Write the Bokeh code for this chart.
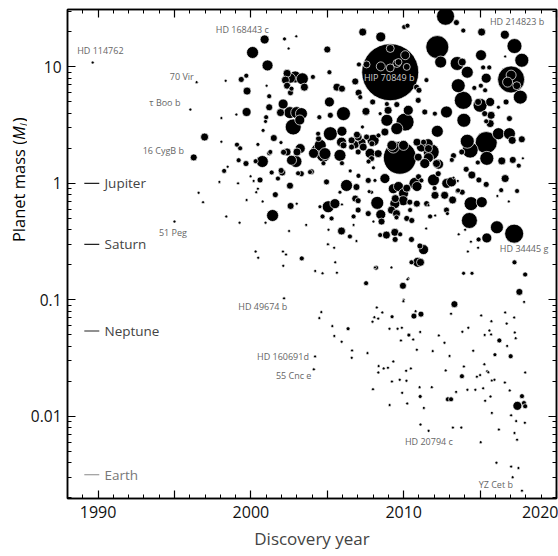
import math
from bokeh.plotting import figure
from bokeh.layouts import row
from bokeh.models import Range1d, LinearAxis, LogAxis, FixedTicker, ColumnDataSource, BasicTickFormatter
from bokeh.core.properties import value
from bokeh.embed import file_html
from bokeh.resources import INLINE

FONT = "Open Sans"

# ---- data: discovery year, planet mass (Jupiter masses), marker size ----
year = [
    1989.65, 1996.45, 1996.04, 1996.26, 1996.97, 1995.00, 1996.58, 1996.87, 1998.07, 1998.35,
    1998.07, 1997.94, 1998.25, 1998.48, 1998.39, 1999.16, 1999.26, 1999.72, 1999.05, 1999.37,
    1999.70, 1999.75, 1999.72, 1999.09, 1999.30, 1999.20, 1999.68, 1999.98, 2000.18, 2000.35,
    2000.46, 2000.60, 2000.31, 2000.75, 2001.20, 2000.77, 2001.36, 2001.60, 2001.77, 2002.05,
    2001.42, 2000.96, 2002.50, 2000.31, 2000.48, 2002.10, 2002.30, 2002.12, 2002.17, 2000.11,
    2000.90, 2001.09, 2001.03, 2001.20, 2001.20, 2001.00, 2000.96, 2000.80, 2001.50, 2000.46,
    2001.97, 2001.27, 2002.20, 2002.97, 2002.47, 2002.37, 2002.26, 2002.59, 2002.90, 2002.37,
    2002.59, 2002.11, 2002.55, 2001.94, 2003.00, 2002.77, 2003.20, 2002.14, 2002.37, 2003.02,
    2002.56, 2002.60, 2003.00, 2003.09, 2002.95, 2004.06, 2003.50, 2003.37, 2003.31, 2002.66,
    2004.48,
    2005.00, 2005.14, 2005.63, 2005.96, 2006.83, 2007.05, 2007.16, 2005.14, 2007.97, 2007.53,
    2008.90, 2009.55, 2006.06, 2008.46, 2010.30, 2005.20, 2005.20, 2005.96, 2006.94, 2007.30,
    2008.90, 2010.09, 2009.55, 2004.43, 2004.54, 2003.23, 2006.06, 2006.83, 2007.27, 2007.92,
    2008.35, 2009.23, 2009.99, 2010.87, 2007.32, 2008.50, 2010.03, 2010.25, 2007.07, 2007.57,
    2009.12, 2009.12, 2010.10, 2009.55, 2008.50, 2009.12, 2009.66, 2010.20,
    2012.74, 2013.45, 2013.90, 2015.10, 2016.62, 2012.20, 2017.25, 2015.06, 2016.64, 2017.73,
    2013.50, 2013.83, 2012.42, 2014.16, 2015.20, 2015.60, 2015.40, 2017.03, 2017.03, 2016.80,
    2017.40, 2014.62, 2013.57, 2015.05, 2015.33, 2017.63, 2013.90, 2014.87, 2015.00, 2015.66,
    2016.70, 2016.20, 2012.80, 2012.04, 2015.30, 2015.72, 2016.92, 2013.94, 2015.40, 2015.66,
    2012.20, 2014.16, 2015.40, 2016.20, 2017.10, 2016.92, 2017.73, 2011.30, 2011.62, 2013.80,
    2011.62, 2012.28, 2013.26, 2013.15, 2014.35, 2015.44, 2014.85, 2016.42, 2017.14, 2017.53,
    2017.80, 2014.09, 2014.46, 2014.92, 2011.95, 2012.82, 2013.26, 2013.54, 2015.40, 2016.64,
    2012.02, 2012.68, 2013.20, 2013.52, 2013.83, 2014.41, 2015.11, 2016.38, 2016.13, 2017.42,
    2016.88, 2011.73, 2012.06, 2012.86, 2014.30, 2014.02, 2011.47, 2011.30, 2011.10, 2013.60,
    2016.10, 2017.23, 2015.44, 2014.90, 2014.40, 2014.87, 2014.20, 2017.25, 2017.95, 2013.92,
    2014.47, 2017.57, 2017.88,
    2008.98, 2011.38, 2010.95, 2010.84, 2011.49, 2011.00, 2004.40, 2005.93, 2006.59, 2007.02,
    2007.57, 2008.00, 2008.77, 2009.32, 2009.75, 2004.41, 2004.85, 2005.83, 2006.59, 2007.02,
    2007.35, 2007.90, 2008.33, 2011.16, 2011.60, 2011.80, 2010.95, 2012.15, 2012.26, 2011.38,
    2002.66, 2001.98, 2003.30, 2003.87, 2004.95, 2006.26, 2006.91, 2007.68, 2008.12, 2008.77,
    2009.32, 2009.66, 2009.99, 2010.20, 2010.87, 2009.45, 2010.74, 2011.16, 2009.97, 2009.42,
    2009.20, 2009.53, 2010.40, 2008.27, 2007.68, 2007.02, 2007.02, 2007.90, 2005.83, 2005.50,
    2005.06, 2005.28, 2004.52, 2008.55, 2009.53, 2011.50, 2012.80, 2012.05, 2013.13, 2013.56,
    2005.93, 2006.48, 2005.06, 2006.91, 2008.87, 2009.42, 2009.44, 2009.77, 2010.51, 2011.06,
    2010.92, 2010.51, 2008.12, 2009.20, 2010.30, 2003.33, 2004.21, 2004.69, 2005.63, 2005.52,
    2005.04, 2005.45, 2005.08, 2003.62, 2004.69, 2006.72, 2006.72, 2008.02, 2008.46, 2007.54,
    2008.19, 2009.95, 2010.25, 2010.00, 2008.50, 2007.80, 2007.70, 2004.10, 2004.75, 2004.75,
    2005.96, 2003.96, 2006.50, 2007.04, 2008.02, 2007.74, 2006.83, 2010.42, 2010.86, 2010.97,
    2010.20, 2010.53, 2011.62, 2005.96,
    2004.61, 2004.48, 2005.33, 2005.46, 2005.94, 2006.36, 2006.62, 2006.60, 2007.63, 2004.20,
    2004.12, 2008.24, 2008.60, 2008.08, 2008.33, 2007.96, 2009.24, 2009.07, 2009.60, 2009.88,
    2008.36, 2008.69, 2008.97, 2008.34, 2009.32, 2009.23, 2007.99, 2009.08, 2009.74, 2009.98,
    2010.67, 2011.13, 2010.78, 2013.32, 2013.10, 2009.82, 2010.34, 2010.62, 2011.08, 2012.30,
    2012.67, 2010.86, 2011.90, 2013.00, 2010.16, 2010.47, 2010.18, 2009.90, 2011.04, 2011.84,
    2011.08, 2010.23, 2011.32, 2011.10, 2011.63, 2012.75, 2013.84, 2014.23, 2014.55, 2013.94,
    2013.81, 2013.43, 2012.89, 2013.10, 2013.22, 2013.77, 2014.17, 2014.69, 2014.79, 2015.00,
    2015.20, 2015.28, 2015.46, 2015.54, 2015.07, 2015.74, 2015.61, 2015.30, 2015.72, 2015.77,
    2015.94, 2015.68, 2015.33, 2015.77, 2015.04, 2016.64, 2016.74, 2016.26, 2016.77, 2015.97,
    2017.00, 2016.62, 2016.94, 2017.23, 2017.27, 2017.33, 2017.95, 2017.74, 2017.44, 2017.87,
    2017.95, 2017.03, 2017.36, 2017.93, 2017.25, 2017.42, 2016.23, 2016.07, 2017.03, 2017.51,
    2017.13, 2017.74,
]

mass = [
    10.9, 7.4, 4.3, 1.67, 2.5, 0.47, 0.83, 0.69, 3.64, 7.6,
    2.28, 1.03, 1.28, 1.39, 0.52, 1.0, 0.46, 0.72, 3.9, 7.8,
    8.4, 6.2, 4.1, 2.15, 2.0, 1.58, 1.48, 1.15, 1.05, 0.84,
    0.90, 1.07, 1.55, 1.54, 1.81, 0.70, 1.24, 0.80, 1.10, 1.24,
    0.53, 0.46, 0.39, 0.26, 0.23, 0.26, 0.245, 0.196, 0.103, 13.3,
    17.2, 10.3, 6.9, 5.6, 4.5, 3.7, 3.4, 2.85, 2.45, 2.16,
    2.24, 1.86, 17.4, 18.3, 14.4, 8.8, 7.7, 8.0, 8.2, 6.9,
    6.0, 4.8, 4.05, 4.05, 4.05, 3.05, 3.5, 1.85, 1.86, 1.86,
    0.955, 0.64, 0.67, 1.22, 1.54, 8.2, 6.7, 7.9, 3.97, 6.5,
    3.7,
    14.1, 9.0, 6.7, 6.5, 7.5, 6.0, 5.5, 5.0, 5.0, 4.15,
    4.8, 4.75, 3.97, 3.97, 4.24, 3.84, 2.67, 2.8, 2.62, 3.05,
    3.48, 3.36, 2.95, 2.42, 2.12, 1.99, 2.12, 2.15, 2.26, 2.19,
    2.58, 2.12, 2.12, 2.26, 19.9, 18.1, 22.0, 22.6, 10.5, 10.5,
    9.0, 14.4, 12.6, 10.7, 10.1, 9.8, 11.0, 10.0,
    27.2, 24.0, 20.5, 19.9, 18.9, 14.8, 15.1, 12.6, 12.3, 11.4,
    10.7, 11.0, 11.0, 9.0, 9.9, 9.9, 8.0, 7.8, 8.5, 7.4,
    6.9, 6.6, 6.9, 6.9, 6.3, 5.5, 5.16, 5.0, 4.68, 5.0,
    5.0, 4.5, 4.1, 3.97, 3.97, 3.84, 3.6, 3.48, 3.41, 3.26,
    2.8, 2.3, 2.24, 2.67, 2.34, 2.67, 2.39, 2.26, 1.99, 1.86,
    1.66, 1.46, 1.73, 1.59, 1.93, 1.64, 1.51, 1.56, 1.59, 1.42,
    1.64, 1.32, 1.18, 1.07, 1.07, 1.0, 1.12, 1.05, 0.98, 1.10,
    0.91, 0.79, 0.72, 0.86, 0.84, 0.67, 0.69, 0.875, 0.78, 0.86,
    0.70, 0.52, 0.53, 0.55, 0.48, 0.40, 0.41, 0.27, 0.21, 0.365,
    0.42, 0.37, 0.34, 0.33, 0.316, 0.28, 0.26, 0.21, 0.165, 0.169,
    0.169, 0.117, 0.096,
    4.24, 4.1, 5.16, 6.7, 7.7, 6.3, 2.67, 2.26, 2.34, 2.5,
    2.5, 2.34, 2.76, 2.05, 1.66, 1.92, 1.80, 1.74, 2.05, 1.86,
    2.05, 1.63, 1.80, 2.05, 2.19, 1.86, 1.68, 1.48, 1.21, 1.48,
    1.58, 1.29, 1.21, 1.25, 1.03, 0.96, 0.93, 1.06, 1.06, 1.10,
    0.90, 0.94, 0.82, 0.91, 0.94, 0.74, 1.0, 1.06, 0.71, 0.67,
    0.59, 0.55, 0.69, 0.68, 0.55, 0.71, 0.59, 0.84, 0.84, 0.67,
    0.63, 0.50, 0.63, 0.47, 0.51, 0.67, 0.59, 0.79, 1.03, 0.87,
    0.39, 0.35, 0.30, 0.32, 0.36, 0.38, 0.33, 0.365, 0.33, 0.29,
    0.21, 0.21, 0.19, 0.19, 0.153, 0.227, 0.177, 0.169, 0.171, 0.21,
    0.30, 0.28, 0.40, 0.44, 0.52, 0.52, 0.44, 0.47, 0.36, 0.139,
    0.189, 0.132, 0.15, 0.10, 0.54, 1.81, 1.54, 1.81, 1.75, 1.49,
    1.49, 1.26, 1.28, 1.16, 1.36, 0.85, 0.74, 0.59, 0.67, 1.14,
    0.50, 0.48, 0.65, 0.66,
    0.0785, 0.0697, 0.0595, 0.049, 0.0437, 0.0565, 0.0368, 0.0318, 0.0349, 0.0327,
    0.0253, 0.086, 0.078, 0.071, 0.069, 0.065, 0.0716, 0.0565, 0.0565, 0.0576,
    0.027, 0.0258, 0.0261, 0.0238, 0.0296, 0.0199, 0.0171, 0.0125, 0.0206, 0.0975,
    0.0725, 0.0754, 0.08, 0.0918, 0.076, 0.0448, 0.0498, 0.0457, 0.053, 0.0495,
    0.0428, 0.0373, 0.0363, 0.033, 0.0246, 0.0258, 0.0202, 0.0159, 0.0178, 0.0178,
    0.0148, 0.0129, 0.0118, 0.0085, 0.0075, 0.0248, 0.0532, 0.0576, 0.0366, 0.0268,
    0.0221, 0.0162, 0.014, 0.014, 0.008, 0.008, 0.0169, 0.0169, 0.0219, 0.0226,
    0.0174, 0.028, 0.0244, 0.0239, 0.0735, 0.0656, 0.0546, 0.05, 0.0505, 0.0203,
    0.0206, 0.0148, 0.0136, 0.0107, 0.006, 0.078, 0.0625, 0.0448, 0.0402, 0.0338,
    0.0328, 0.0195, 0.0167, 0.0706, 0.0525, 0.0469, 0.0238, 0.0149, 0.0123, 0.013,
    0.0122, 0.0102, 0.0091, 0.0088, 0.0072, 0.0063, 0.0077, 0.004, 0.0037, 0.0036,
    0.003, 0.0023,
]

size = [
    3, 3, 3, 7, 8, 3, 3, 3, 3, 3,
    3, 3, 5, 3, 3, 3, 3, 3, 3, 6,
    5, 8, 9, 5, 5, 5, 6, 3, 3, 3,
    3, 6, 5, 12, 5, 3, 5, 6, 5, 7,
    12, 3, 3, 3, 3, 3, 3, 3, 3, 12,
    9, 11, 3, 5, 7, 5, 4, 4, 7, 4,
    4, 5, 4, 3, 3, 8, 8, 10, 12, 7,
    6, 10, 12, 8, 12, 16, 10, 6, 8, 8,
    7, 7, 3, 5, 12, 5, 8, 12, 12, 5,
    5,
    7, 5, 8, 7, 7, 7, 5, 10, 6, 8,
    5, 6, 14, 4, 10, 6, 14, 10, 7, 4,
    12, 18, 12, 6, 12, 10, 7, 8, 8, 6,
    5, 10, 10, 8, 8, 10, 5, 5, 5, 7,
    57, 8, 9, 8, 9, 8, 7, 7,
    18, 6, 5, 8, 9, 23, 15, 11, 3, 14,
    14, 8, 12, 12, 5, 5, 10, 27, 10, 10,
    8, 5, 14, 5, 5, 14, 18, 7, 14, 9,
    6, 4, 12, 5, 6, 8, 6, 14, 5, 8,
    12, 14, 22, 12, 8, 12, 7, 6, 8, 6,
    10, 10, 6, 5, 16, 14, 5, 8, 7, 5,
    3, 6, 8, 6, 12, 10, 3, 3, 6, 8,
    5, 8, 8, 5, 6, 14, 11, 5, 3, 5,
    3, 5, 3, 4, 16, 3, 3, 10, 8, 3,
    13, 19, 10, 5, 3, 3, 3, 5, 5, 4,
    4, 7, 3,
    8, 6, 6, 6, 5, 6, 5, 10, 7, 8,
    6, 12, 8, 12, 33, 14, 12, 12, 6, 6,
    8, 6, 8, 10, 10, 16, 8, 8, 6, 10,
    10, 6, 6, 5, 6, 12, 7, 6, 4, 10,
    10, 10, 10, 8, 10, 8, 12, 5, 10, 10,
    8, 8, 6, 13, 6, 6, 6, 4, 4, 10,
    12, 5, 4, 7, 5, 6, 6, 8, 10, 5,
    8, 5, 3, 3, 8, 8, 6, 5, 6, 6,
    10, 5, 3, 3, 3, 5, 3, 3, 3, 3,
    3, 3, 3, 3, 5, 5, 3, 3, 5, 5,
    5, 7, 3, 3, 10, 10, 5, 10, 14, 5,
    5, 6, 4, 5, 4, 4, 7, 5, 7, 6,
    6, 6, 3, 3,
    3, 3, 3, 3, 3, 4, 3, 3, 3, 3,
    3, 3, 3, 3, 3, 3, 4, 3, 3, 3,
    3, 3, 3, 3, 3, 3, 3, 3, 3, 3,
    6, 6, 3, 7, 3, 3, 4, 3, 3, 3,
    3, 3, 3, 3, 3, 3, 3, 3, 3, 3,
    4, 3, 3, 3, 3, 3, 3, 3, 3, 3,
    5, 3, 5, 5, 3, 3, 3, 3, 3, 3,
    3, 3, 3, 3, 3, 3, 3, 3, 3, 3,
    3, 3, 3, 3, 3, 3, 3, 5, 3, 4,
    5, 3, 3, 3, 3, 3, 3, 5, 9, 5,
    5, 3, 3, 3, 3, 3, 3, 3, 3, 3,
    3, 3,
]

# named planets (label text and label anchor)
name_text = ["HD 114762", "HD 168443 c", "70 Vir", "\u03c4 Boo b", "16 CygB b", "51 Peg",
             "HD 49674 b", "HD 160691d", "55 Cnc e", "HD 20794 c", "YZ Cet b",
             "HD 214823 b", "HD 34445 g"]
name_year = [1990.15, 1999.44, 1995.48, 1994.37, 1994.27, 1994.90,
             2000.78, 2002.10, 2002.80, 2011.65, 2016.03, 2017.42, 2017.88]
name_mass = [13.9, 21.0, 8.3, 4.96, 1.92, 0.38,
             0.0878, 0.0325, 0.0223, 0.0061, 0.00259, 24.3, 0.277]
hip_text = ["HIP 70849 b"]
hip_year = [2009.05]
hip_mass = [8.03]

# solar-system reference planets
ss_names = ["Jupiter", "Saturn", "Neptune", "Earth"]
ss_mass = [1.0, 0.299, 0.054, 0.00315]
ss_line_color = ["#222222", "#222222", "#222222", "#888888"]
ss_text_color = ["#444444", "#444444", "#444444", "#777777"]

# y tick labels
maj_y = [0.01, 0.1, 1, 10]
maj_y_labels = ["0.01", "0.1", "1", "10"]

# y-axis title pieces: text, font style, font size, x offset (px in strip), anchor mass, alignment
ylab_text = ["Planet mass (", "M", "J", ")"]
ylab_style = ["normal", "italic", "italic", "normal"]
ylab_size = ["16.5px", "16.5px", "11px", "16.5px"]
ylab_x = [18, 18, 22.5, 18]
ylab_mass = [2.36, 2.36, 3.09, 3.34]
ylab_align = ["right", "left", "left", "left"]

Y_RANGE = Range1d(0.00197, 31.1)
STRIP = 27

# ---- main figure ----
p = figure(width=558 - STRIP, height=556, y_axis_type="log",
           x_range=Range1d(1988, 2020), y_range=Y_RANGE,
           output_backend="svg", toolbar_location=None,
           min_border_left=67 - STRIP, min_border_right=2, min_border_top=9, min_border_bottom=58)
p.xgrid.visible = False
p.ygrid.visible = False
p.outline_line_color = "black"
p.outline_line_width = 1.5
p.background_fill_color = "white"
p.border_fill_color = "white"

order = sorted(range(len(year)), key=lambda i: -size[i])
src = ColumnDataSource(dict(x=[year[i] for i in order], y=[mass[i] for i in order],
                            s=[size[i] for i in order]))
p.scatter("x", "y", size="s", source=src, fill_color="black", line_color="white",
          line_width=0.7)

# reference lines for solar-system planets
p.segment(x0=[1989.1] * 4, y0=ss_mass, x1=[1990.08] * 4, y1=ss_mass,
          line_color=ss_line_color, line_width=1.2)
p.text(x=[1990.42] * 4, y=ss_mass, text=ss_names, text_color=ss_text_color,
       text_align="left", text_baseline="middle", text_font=value(FONT),
       text_font_size="13.5px")

p.text(x=name_year, y=name_mass, text=name_text, text_color="#666666",
       text_align="center", text_baseline="middle", text_font=value(FONT),
       text_font_size="9px")
p.text(x=hip_year, y=hip_mass, text=hip_text, text_color="#cccccc",
       text_align="center", text_baseline="middle", text_font=value(FONT),
       text_font_size="9px")

# ---- axes ----
maj_x = [1990, 1995, 2000, 2005, 2010, 2015, 2020]
min_x = list(range(1988, 2021))
min_y = [m * 10.0 ** e for e in range(-3, 2) for m in range(2, 10)]


def style(ax, labels=True, fs="16px"):
    ax.axis_line_width = 1.5
    ax.axis_line_color = "black"
    ax.major_tick_in = 8
    ax.major_tick_out = 0
    ax.minor_tick_in = 4
    ax.minor_tick_out = 0
    ax.major_tick_line_color = "black"
    ax.minor_tick_line_color = "black"
    ax.major_tick_line_width = 1.2
    ax.minor_tick_line_width = 1
    ax.major_label_text_font = FONT
    ax.major_label_text_color = "#111111"
    if labels:
        ax.major_label_text_font_size = fs
    else:
        ax.major_label_text_font_size = "1px"
        ax.major_label_text_alpha = 0
        ax.major_label_standoff = 0


xb = p.xaxis[0]
xb.ticker = FixedTicker(ticks=maj_x, minor_ticks=min_x)
xb.major_label_overrides = {1995: "", 2005: "", 2015: ""}
style(xb)
xb.major_label_standoff = 7
xb.axis_label = "Discovery year"
xb.axis_label_text_font = FONT
xb.axis_label_text_font_style = "normal"
xb.axis_label_text_font_size = "17px"
xb.axis_label_standoff = 6

yl = p.yaxis[0]
yl.ticker = FixedTicker(ticks=maj_y, minor_ticks=min_y)
yl.formatter = BasicTickFormatter()
yl.major_label_overrides = dict(zip(maj_y, maj_y_labels))
style(yl, fs="15.5px")
yl.major_label_standoff = 6

xt = LinearAxis(ticker=FixedTicker(ticks=maj_x, minor_ticks=min_x))
style(xt, labels=False)
p.add_layout(xt, "above")
yr = LogAxis(ticker=FixedTicker(ticks=maj_y, minor_ticks=min_y))
style(yr, labels=False)
p.add_layout(yr, "right")

# ---- narrow strip on the left carrying the rotated y-axis title ----
left = figure(width=STRIP, height=556, y_axis_type="log",
              x_range=Range1d(0, STRIP), y_range=Y_RANGE,
              x_axis_location=None, y_axis_location=None,
              output_backend="svg", toolbar_location=None,
              min_border_left=0, min_border_right=0, min_border_top=9, min_border_bottom=58)
left.outline_line_color = None
left.xgrid.visible = False
left.ygrid.visible = False
left.background_fill_color = "white"
left.border_fill_color = "white"
for t, st, fs, xx, yy, al in zip(ylab_text, ylab_style, ylab_size, ylab_x, ylab_mass, ylab_align):
    left.text(x=[xx], y=[yy], text=[t], angle=math.pi / 2, text_align=al,
              text_baseline="middle", text_font=value(FONT), text_font_style=st,
              text_font_size=fs, text_color="black")

layout = row(left, p)
open("out.html", "w").write(file_html(layout, INLINE))
